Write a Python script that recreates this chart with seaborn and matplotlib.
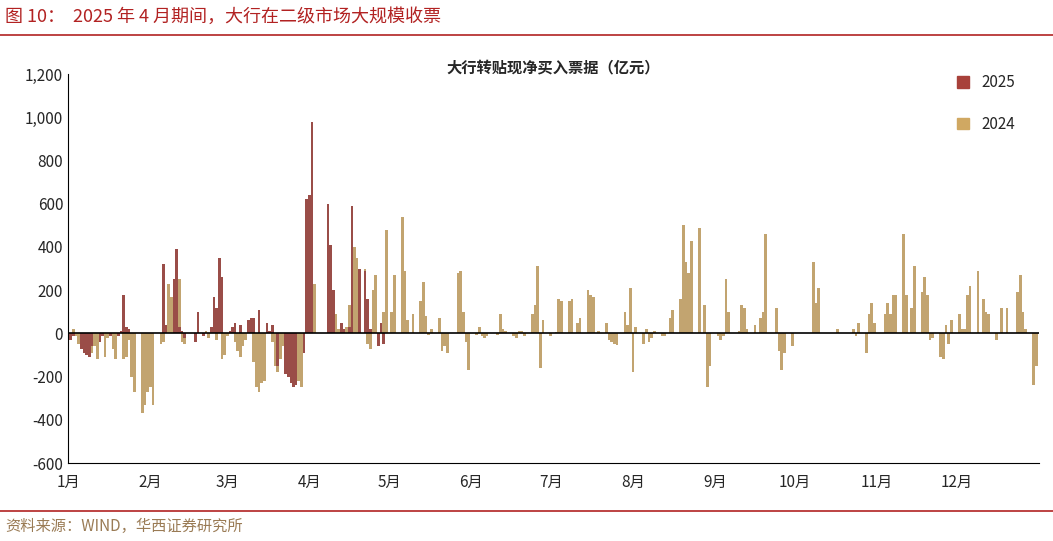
import numpy as np
import pandas as pd
import matplotlib
matplotlib.use("Agg")
import matplotlib.pyplot as plt
from matplotlib.ticker import FuncFormatter
from matplotlib.patches import Patch
import seaborn as sns

months = ["1月","2月","3月","4月","5月","6月","7月","8月","9月","10月","11月","12月"]

v2024_jan = [15,-10,20,-10,-50,-60,-100,-90,-60,-120,-110,-20,-10,-70,-120,-120,-110,-30,-200,-270,-370,-330,-270]
v2024_feb = [-250,-330,-50,-40,0,230,170,250,-40,-50,0,0,0,0,0,10,-20,-30,40,-120,-100]
v2024_mar = [-10,-40,-80,-110,-60,-30,-130,-250,-270,-230,-220,-40,-150,-180,-120,-60,-20,-50,-150,-220,-250]
v2024_apr = [60,150,230,0,0,360,180,130,90,20,30,130,340,400,350,300,-50,-70,200,270,100,480]
v2024_may = [0,100,270,540,290,60,0,90,150,240,80,-5,20,70,-80,-60,-90,0,280,290,100,-40,-170]
v2024_jun = [-5,30,-10,-20,-10,0,-5,90,20,10,-10,-20,10,10,-10,90,130,310,-160,60]
v2024_jul = [-10,0,5,160,150,150,160,0,50,70,200,180,170,0,10,50,-30,-40,-50,-55,100,40,210]
v2024_aug = [-180,30,-50,20,-40,-20,10,-10,-10,0,70,110,160,500,330,280,430,490,0,130,-250,-150]
v2024_sep = [-10,-30,-10,250,100,0,10,130,120,20,40,0,70,100,460,0,120,-80,-170,-90,-60]
v2024_oct = [0,0,0,0,0,330,140,210,0,0,0,0,20,0,0,0,20,-10,50,-90,90,140,50]
v2024_nov = [0,90,140,90,180,180,460,180,0,120,310,190,260,180,-30,-20,-110,-120,40,-50,60]
v2024_dec = [90,20,20,180,220,290,0,160,100,90,-30,0,120,0,120,0,190,270,100,20,-240,-150]

v2025_jan = [10,-30,-10,-70,-90,-100,-110,-60,-40,-10,0,0,-10,-10,10,180,30,20,0,0,0,0,0]
v2025_feb = [0,0,0,320,40,250,390,30,10,-20,0,-40,100,0,-10,30,170,120,350,260]
v2025_mar = [10,30,50,0,40,60,70,70,0,110,50,10,40,0,-150,-190,-200,-230,-250,-240,-90]
v2025_apr = [620,640,980,0,0,0,600,410,200,50,20,0,30,590,300,0,290,160,20,-60,50,-50]

def series(year, lists):
    xs, ys = [], []
    for m, vals in enumerate(lists, start=1):
        days = pd.bdate_range(f"{year}-{m:02d}-01", periods=31)
        days = [d for d in days if d.month == m]
        for d, v in zip(days, vals):
            xs.append(d.dayofyear - 1)
            ys.append(v)
    return pd.DataFrame({"x": xs, "y": ys})

d24 = series(2024, [v2024_jan, v2024_feb, v2024_mar, v2024_apr, v2024_may, v2024_jun,
                    v2024_jul, v2024_aug, v2024_sep, v2024_oct, v2024_nov, v2024_dec])
d25 = series(2025, [v2025_jan, v2025_feb, v2025_mar, v2025_apr])

sns.set_style("white")
plt.rcParams['font.family'] = ['Noto Sans CJK SC', 'DejaVu Sans']
plt.rcParams['axes.unicode_minus'] = False

fig = plt.figure(figsize=(10.53, 5.41), dpi=100)
ax = fig.add_axes([0.0646, 0.144, 0.922, 0.719])

c24 = "#D0A862"
c25 = "#A8413A"
sns.barplot(data=d24, x="x", y="y", native_scale=True, width=1.0, color=c24,
            edgecolor="none", linewidth=0, ax=ax, label="2024")
sns.barplot(data=d25, x="x", y="y", native_scale=True, width=1.0, color=c25,
            edgecolor="none", linewidth=0, ax=ax, label="2025")

ax.set_ylim(-600, 1200)
ax.set_yticks(range(-600, 1201, 200))
ax.yaxis.set_major_formatter(FuncFormatter(lambda v, p: f"{int(v):,}"))
starts = [pd.Timestamp(f"2024-{m:02d}-01").dayofyear - 1 for m in range(1, 13)]
ax.set_xticks(starts)
ax.set_xticklabels(months)
ax.set_xlim(0, 366)
ax.set_xlabel("")
ax.set_ylabel("")
ax.axhline(0, color="black", lw=1.2, zorder=3)
for s in ["top", "right"]:
    ax.spines[s].set_visible(False)
for s in ["left", "bottom"]:
    ax.spines[s].set_color("black")
ax.tick_params(axis="both", labelsize=11, length=4, direction="in", color="black", left=False)
ax.tick_params(axis="x", direction="out")
ax.set_title("大行转贴现净买入票据（亿元）", fontsize=11, fontweight="bold", pad=4, y=0.99)

handles = [Patch(color=c25, label="2025"), Patch(color=c24, label="2024")]
ax.legend(handles=handles, loc="upper right", bbox_to_anchor=(0.99, 1.035), frameon=False,
          fontsize=11, handlelength=0.8, handleheight=0.8, labelspacing=1.6)

fig.text(0.005, 0.968, "图 10：  2025 年 4 月期间，大行在二级市场大规模收票", color="#B22222",
         fontsize=13, va="center")
fig.add_artist(plt.Line2D([0, 1], [0.935, 0.935], color="#B22222", lw=1.2))
fig.add_artist(plt.Line2D([0, 1], [0.055, 0.055], color="#B22222", lw=1.2))
fig.text(0.005, 0.026, "资料来源：WIND，华西证券研究所", color="#9A7B55", fontsize=11, va="center")

fig.savefig("out.png", dpi=100)
